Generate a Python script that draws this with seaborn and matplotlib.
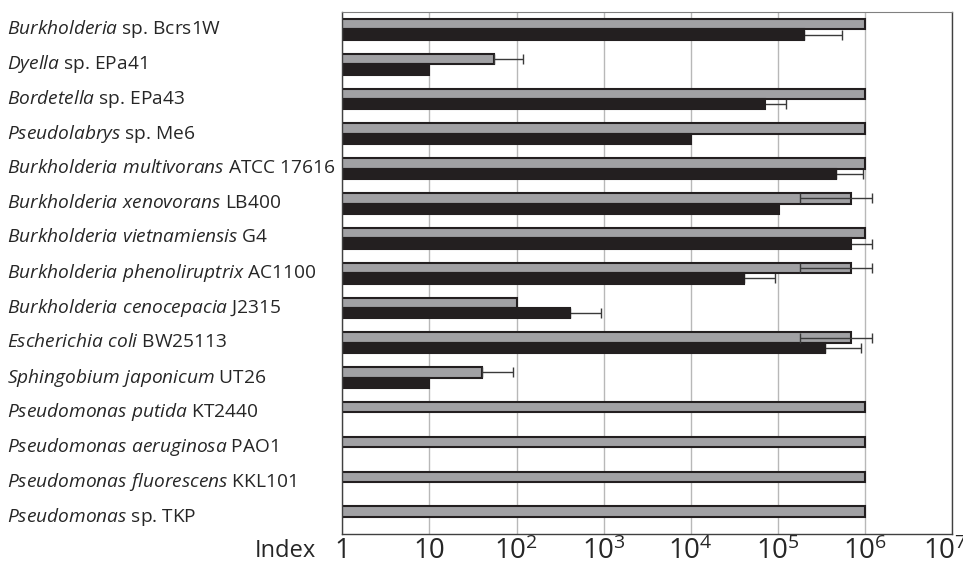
import matplotlib
matplotlib.use("Agg")
import matplotlib.pyplot as plt
import matplotlib.transforms as mtransforms
import seaborn as sns
import pandas as pd
import numpy as np

# strain labels (genus/species in italics via mathtext)
strains = [
    r"$\it{Burkholderia}$ sp. Bcrs1W",
    r"$\it{Dyella}$ sp. EPa41",
    r"$\it{Bordetella}$ sp. EPa43",
    r"$\it{Pseudolabrys}$ sp. Me6",
    r"$\it{Burkholderia\ multivorans}$ ATCC 17616",
    r"$\it{Burkholderia\ xenovorans}$ LB400",
    r"$\it{Burkholderia\ vietnamiensis}$ G4",
    r"$\it{Burkholderia\ phenoliruptrix}$ AC1100",
    r"$\it{Burkholderia\ cenocepacia}$ J2315",
    r"$\it{Escherichia\ coli}$ BW25113",
    r"$\it{Sphingobium\ japonicum}$ UT26",
    r"$\it{Pseudomonas\ putida}$ KT2440",
    r"$\it{Pseudomonas\ aeruginosa}$ PAO1",
    r"$\it{Pseudomonas\ fluorescens}$ KKL101",
    r"$\it{Pseudomonas}$ sp. TKP",
]

# gray series (top bar of each pair)
gray_vals = [1e6, 55, 1e6, 1e6, 1e6, 7e5, 1e6, 7e5, 100, 7e5, 40, 1e6, 1e6, 1e6, 1e6]
gray_err = [0, 65, 0, 0, 0, 5.2e5, 0, 5.2e5, 0, 5.2e5, 51, 0, 0, 0, 0]

# black series (bottom bar of each pair)
black_vals = [2e5, 10, 7.2e4, 1e4, 4.7e5, 1.03e5, 7e5, 4.1e4, 410, 3.5e5, 10,
              np.nan, np.nan, np.nan, np.nan]
black_err = [3.5e5, 0, 5.1e4, 0, 4.9e5, 0, 5.2e5, 5.2e4, 520, 5.6e5, 0, 0, 0, 0, 0]

series = ["gray", "black"]
ticks = [1, 10, 1e2, 1e3, 1e4, 1e5, 1e6, 1e7]
tick_labels = ["1", "10", r"$10^{2}$", r"$10^{3}$", r"$10^{4}$", r"$10^{5}$", r"$10^{6}$", r"$10^{7}$"]

GRAY = "#a1a1a4"
BLACK = "#231f20"

sns.set_theme(style="white")
plt.rcParams["font.family"] = ["Open Sans", "DejaVu Sans"]
plt.rcParams["mathtext.fontset"] = "custom"
plt.rcParams["mathtext.rm"] = "Open Sans"
plt.rcParams["mathtext.it"] = "Open Sans:italic"

df = pd.DataFrame({
    "strain": strains * 2,
    "value": gray_vals + black_vals,
    "series": [series[0]] * len(strains) + [series[1]] * len(strains),
})

fig = plt.figure(figsize=(9.63, 5.61), dpi=100)
ax = fig.add_axes([0.3555, 0.0476, 0.9886 - 0.3555, 0.9786 - 0.0476])

sns.barplot(data=df, y="strain", x="value", hue="series", orient="h",
            palette={"gray": GRAY, "black": BLACK}, width=0.6, errorbar=None,
            edgecolor=BLACK, linewidth=1.5, saturation=1, legend=False, ax=ax,
            zorder=2)

ax.set_xscale("log")
ax.set_xlim(1, 1e7)
ax.set_ylim(len(strains) - 0.5, -0.5)

# error bars: gray ones drawn over the bar, black ones tucked behind it
for cont, vals, errs, z in zip(ax.containers, [gray_vals, black_vals],
                               [gray_err, black_err], [3, 1.5]):
    for bar, v, e in zip(cont, vals, errs):
        if not e or np.isnan(v):
            continue
        yc = bar.get_y() + bar.get_height() / 2
        lo = e if e < v else 0
        ax.errorbar(v, yc, xerr=[[lo], [e]], fmt="none", ecolor="#3a3a3a",
                    elinewidth=1.0, capsize=3.5, capthick=1.0, zorder=z)

ax.set_xticks(ticks)
ax.set_xticklabels(tick_labels, fontsize=20)
ax.xaxis.set_minor_locator(matplotlib.ticker.NullLocator())
ax.tick_params(axis="x", length=0, pad=2)
# last label sits a little left of its tick in the original
last = ax.get_xticklabels()[-1]
last.set_transform(last.get_transform() +
                   mtransforms.ScaledTranslation(-0.07, 0, fig.dpi_scale_trans))

ax.tick_params(axis="y", length=0, labelsize=13.8)
up = mtransforms.ScaledTranslation(0, 0.03, fig.dpi_scale_trans)
for lab in ax.get_yticklabels():
    lab.set_horizontalalignment("left")
    lab.set_x(-0.5417)
    lab.set_transform(lab.get_transform() + up)
ax.set_xlabel("")
ax.set_ylabel("")

ax.grid(axis="x", color="#b8b8b8", linewidth=1.0, zorder=0)
ax.set_axisbelow(True)
for side in ["left", "bottom", "right"]:
    ax.spines[side].set_color("#404040")
    ax.spines[side].set_linewidth(1.0)
ax.spines["top"].set_color("#808080")
ax.spines["top"].set_linewidth(0.8)

fig.text(285 / 963, 1 - 551 / 561, "Index", fontsize=17, ha="center", va="center")

fig.savefig("out.png", dpi=100)
